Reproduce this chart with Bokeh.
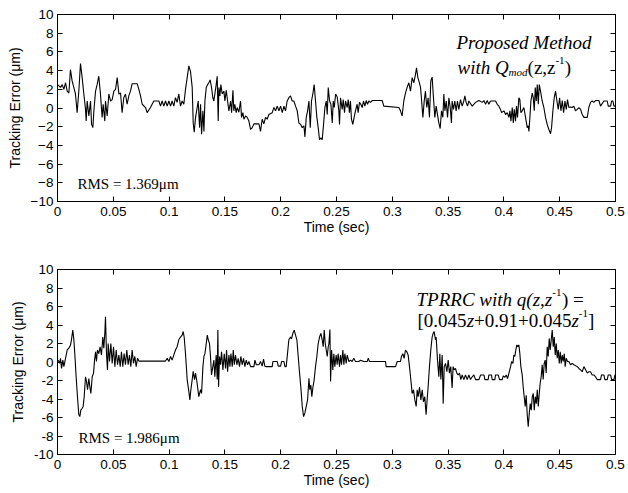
from bokeh.plotting import figure
from bokeh.models import Range1d, FixedTicker, LinearAxis, Label
from bokeh.layouts import column
from bokeh.embed import file_html
from bokeh.resources import INLINE

# ---------------- data ----------------
X_TICKS = [0, 0.05, 0.1, 0.15, 0.2, 0.25, 0.3, 0.35, 0.4, 0.45, 0.5]
X_TICK_LABELS = ["0", "0.05", "0.1", "0.15", "0.2", "0.25", "0.3", "0.35", "0.4", "0.45", "0.5"]
Y_TICKS = [-10, -8, -6, -4, -2, 0, 2, 4, 6, 8, 10]
Y_TICK_LABELS_TOP = ["\u221210", "\u22128", "\u22126", "\u22124", "\u22122", "0", "2", "4", "6", "8", "10"]
Y_TICK_LABELS_BOTTOM = ["-10", "-8", "-6", "-4", "-2", "0", "2", "4", "6", "8", "10"]
X_LABEL = "Time (sec)"
Y_LABEL = "Tracking Error (\u03bcm)"
RMS_TOP = "RMS = 1.369\u03bcm"
RMS_BOTTOM = "RMS = 1.986\u03bcm"

# Proposed method (top panel): time (s), tracking error (um)
T_PROPOSED = [
    0.0000, 0.0027, 0.0042, 0.0057, 0.0072, 0.0087, 0.0102, 0.0116, 0.0131, 0.0146,
    0.0161, 0.0176, 0.0191, 0.0206, 0.0221, 0.0236, 0.0251, 0.0257, 0.0266, 0.0281,
    0.0296, 0.0305, 0.0317, 0.0326, 0.0341, 0.0355, 0.0370, 0.0385, 0.0400, 0.0409,
    0.0424, 0.0430, 0.0445, 0.0460, 0.0475, 0.0490, 0.0505, 0.0520, 0.0535, 0.0550,
    0.0565, 0.0579, 0.0594, 0.0609, 0.0624, 0.0639, 0.0654, 0.0669, 0.0714, 0.0729,
    0.0744, 0.0759, 0.0789, 0.0803, 0.0833, 0.0863, 0.0908, 0.0923, 0.0938, 0.0953,
    0.0968, 0.0983, 0.0998, 0.1013, 0.1027, 0.1042, 0.1057, 0.1072, 0.1087, 0.1102,
    0.1117, 0.1132, 0.1147, 0.1162, 0.1177, 0.1192, 0.1207, 0.1216, 0.1225, 0.1237,
    0.1261, 0.1273, 0.1282, 0.1291, 0.1303, 0.1312, 0.1321, 0.1333, 0.1345, 0.1356,
    0.1368, 0.1380, 0.1392, 0.1401, 0.1410, 0.1422, 0.1431, 0.1440, 0.1446, 0.1455,
    0.1464, 0.1476, 0.1491, 0.1500, 0.1512, 0.1524, 0.1536, 0.1551, 0.1560, 0.1572,
    0.1580, 0.1589, 0.1601, 0.1610, 0.1625, 0.1640, 0.1649, 0.1661, 0.1670, 0.1685,
    0.1700, 0.1715, 0.1730, 0.1745, 0.1760, 0.1805, 0.1819, 0.1834, 0.1849, 0.1864,
    0.1879, 0.1894, 0.1924, 0.1939, 0.1954, 0.1969, 0.1984, 0.1999, 0.2014, 0.2029,
    0.2043, 0.2058, 0.2073, 0.2088, 0.2103, 0.2118, 0.2133, 0.2148, 0.2163, 0.2178,
    0.2193, 0.2208, 0.2217, 0.2229, 0.2241, 0.2253, 0.2265, 0.2276, 0.2288, 0.2300,
    0.2312, 0.2324, 0.2336, 0.2348, 0.2360, 0.2372, 0.2384, 0.2396, 0.2408, 0.2417,
    0.2426, 0.2438, 0.2450, 0.2462, 0.2471, 0.2480, 0.2492, 0.2506, 0.2521, 0.2527,
    0.2536, 0.2551, 0.2560, 0.2572, 0.2581, 0.2596, 0.2605, 0.2616, 0.2625, 0.2634,
    0.2646, 0.2658, 0.2670, 0.2685, 0.2694, 0.2706, 0.2718, 0.2730, 0.2742, 0.2754,
    0.2766, 0.2778, 0.2790, 0.2805, 0.2820, 0.2909, 0.2924, 0.3059, 0.3073, 0.3088,
    0.3103, 0.3118, 0.3133, 0.3148, 0.3163, 0.3178, 0.3193, 0.3208, 0.3217, 0.3229,
    0.3238, 0.3253, 0.3262, 0.3274, 0.3286, 0.3297, 0.3309, 0.3321, 0.3333, 0.3345,
    0.3357, 0.3369, 0.3381, 0.3393, 0.3405, 0.3417, 0.3429, 0.3441, 0.3453, 0.3462,
    0.3471, 0.3483, 0.3495, 0.3507, 0.3519, 0.3530, 0.3536, 0.3548, 0.3560, 0.3572,
    0.3584, 0.3596, 0.3611, 0.3626, 0.3641, 0.3650, 0.3662, 0.3674, 0.3686, 0.3716,
    0.3746, 0.3776, 0.3806, 0.3821, 0.3836, 0.3851, 0.3865, 0.3880, 0.3925, 0.3940,
    0.3955, 0.3970, 0.3979, 0.4000, 0.4015, 0.4030, 0.4045, 0.4054, 0.4063, 0.4075,
    0.4084, 0.4093, 0.4104, 0.4113, 0.4122, 0.4134, 0.4143, 0.4152, 0.4164, 0.4179,
    0.4194, 0.4209, 0.4218, 0.4224, 0.4233, 0.4242, 0.4254, 0.4263, 0.4272, 0.4281,
    0.4290, 0.4299, 0.4308, 0.4317, 0.4328, 0.4343, 0.4358, 0.4373, 0.4388, 0.4403,
    0.4418, 0.4427, 0.4439, 0.4451, 0.4463, 0.4475, 0.4487, 0.4499, 0.4511, 0.4523,
    0.4535, 0.4547, 0.4559, 0.4570, 0.4582, 0.4597, 0.4612, 0.4627, 0.4642, 0.4657,
    0.4672, 0.4687, 0.4702, 0.4717, 0.4747, 0.4761, 0.4776, 0.4791, 0.4806, 0.4821,
    0.4851, 0.4866, 0.4896, 0.4926, 0.4935, 0.4956, 0.4965, 0.4977, 0.4986, 0.5000,
]
E_PROPOSED = [
    2.5, 2.2, 2.5, 2.0, 2.7, 1.8, 1.6, 4.1, 2.9, 2.2,
    1.5, -0.5, 1.8, 4.75, 3.25, 1.5, -0.15, -1.4, 0.75, -0.85,
    0.75, -1.75, -2.1, -0.3, 1.8, 2.5, 3.4, 1.5, -1.0, 0.4,
    -1.4, 0.75, -0.85, 1.5, 0.75, 0.9, 1.8, 2.0, 3.25, 1.5,
    1.6, -0.5, 1.1, 1.5, 0.4, 1.3, 1.8, 2.6, 2.6, 2.0,
    1.3, 0.4, 0.05, -0.5, 0.05, 0.75, 0.75, 0.2, 0.75, 0.2,
    0.75, 0.2, 0.75, 0.2, 0.75, 0.2, 1.1, 0.6, 1.5, 0.2,
    0.75, 0.4, 2.0, 3.25, 4.5, 3.9, 2.2, -1.6, -2.6, -1.0,
    0.75, -2.1, 0.4, -2.8, -0.3, -2.5, 0.75, 2.2, 2.5, 2.7,
    3.0, 2.2, 1.1, 0.75, 1.5, 2.5, 3.4, -1.4, 2.2, 1.3,
    2.5, 1.5, 1.8, 0.75, 1.9, 0.75, -0.3, 0.75, -0.5, 1.9,
    -0.3, 0.4, -0.5, 0.05, -0.45, 0.75, -1.0, -0.5, -1.2, -0.85,
    -1.0, -1.4, -2.3, -2.1, -1.7, -1.7, -2.5, -1.2, -1.7, -1.0,
    -1.2, -0.7, -0.5, 0.05, -0.3, 0.2, -0.3, 0.2, -0.5, 0.2,
    -0.3, 0.75, 1.1, 1.3, 0.75, 0.75, 0.2, -0.3, -1.6, -1.75,
    -2.1, -1.9, -3.1, -1.0, -0.3, 0.75, -2.1, 0.75, 1.5, 2.5,
    0.75, -1.0, -2.1, -3.4, -3.2, -3.4, -1.75, 0.05, 0.75, -0.7,
    2.2, 0.75, 0.4, -1.6, 0.75, 0.05, 1.5, 1.2, -0.3, -1.75,
    1.1, -0.15, 0.9, -0.5, 0.75, 0.05, 0.9, -0.5, 0.75, -1.2,
    -1.75, -1.0, -0.3, 0.4, -0.5, 0.6, 0.4, 0.05, 0.75, 0.2,
    0.8, 0.4, 0.75, 0.6, 0.8, 0.8, 0.2, 0.05, -0.3, -0.85,
    0.75, 1.6, 2.2, 2.7, 1.8, 3.25, 2.7, 3.6, 4.3, 3.25,
    2.9, 2.2, 0.9, -1.0, 0.75, 1.8, 0.05, 1.1, -1.0, 2.9,
    3.3, 1.1, -1.0, 0.2, -0.7, -1.6, -2.2, -0.3, -1.0, 1.5,
    -0.3, 0.75, -1.0, 1.1, 0.05, -1.6, 0.75, -0.15, 0.75, -0.3,
    0.75, -0.15, 0.9, 0.2, 0.75, 1.3, 0.6, 0.2, 0.75, 0.2,
    0.6, 0.8, 0.6, 0.8, 0.4, 0.8, 0.4, 0.75, 0.75, 0.4,
    0.2, -0.15, -0.5, -0.3, -0.7, -0.5, -1.0, -0.3, -1.4, 0.05,
    -1.6, -0.15, -1.4, 0.2, -1.0, 1.1, 0.9, -0.5, -0.3, 0.05,
    -1.0, -2.1, -1.9, -2.5, -1.0, 0.75, 1.6, 1.1, -0.3, 2.2,
    0.75, 2.5, 0.4, 2.5, 1.8, 0.75, 0.05, -1.0, -1.75, -2.3,
    -2.75, -2.1, -0.3, 1.1, 1.8, 0.75, -0.15, 1.1, -0.3, 0.8,
    -0.5, 0.75, -0.15, 0.9, 0.05, 0.1, 0.05, 0.2, -0.3, -0.15,
    0.05, -0.15, -0.7, -1.0, -1.0, 0.05, 0.6, 0.75, 0.6, 0.8,
    0.8, 0.2, 0.75, 0.75, 0.2, 0.2, 0.75, 0.75, 0.2, 0.2,
]

# TPRRC (bottom panel): time (s), tracking error (um)
T_TPRRC = [
    0.0006, 0.0018, 0.0027, 0.0036, 0.0048, 0.0057, 0.0066, 0.0078, 0.0087, 0.0102,
    0.0116, 0.0125, 0.0137, 0.0146, 0.0155, 0.0167, 0.0179, 0.0191, 0.0200, 0.0209,
    0.0221, 0.0230, 0.0239, 0.0251, 0.0260, 0.0269, 0.0281, 0.0290, 0.0299, 0.0311,
    0.0323, 0.0332, 0.0341, 0.0349, 0.0358, 0.0370, 0.0382, 0.0394, 0.0406, 0.0415,
    0.0424, 0.0430, 0.0439, 0.0448, 0.0454, 0.0466, 0.0478, 0.0490, 0.0502, 0.0514,
    0.0526, 0.0538, 0.0550, 0.0562, 0.0573, 0.0585, 0.0597, 0.0609, 0.0621, 0.0633,
    0.0645, 0.0657, 0.0669, 0.0681, 0.0693, 0.0705, 0.0717, 0.0729, 0.0968, 0.0983,
    0.0998, 0.1013, 0.1027, 0.1042, 0.1057, 0.1072, 0.1087, 0.1102, 0.1117, 0.1126,
    0.1135, 0.1147, 0.1162, 0.1177, 0.1186, 0.1195, 0.1207, 0.1216, 0.1228, 0.1237,
    0.1251, 0.1266, 0.1282, 0.1291, 0.1303, 0.1312, 0.1321, 0.1333, 0.1342, 0.1351,
    0.1362, 0.1371, 0.1380, 0.1392, 0.1401, 0.1410, 0.1422, 0.1431, 0.1437, 0.1443,
    0.1452, 0.1461, 0.1470, 0.1482, 0.1494, 0.1506, 0.1515, 0.1524, 0.1536, 0.1545,
    0.1554, 0.1566, 0.1575, 0.1584, 0.1595, 0.1607, 0.1619, 0.1631, 0.1643, 0.1655,
    0.1667, 0.1679, 0.1691, 0.1703, 0.1715, 0.1730, 0.1760, 0.1769, 0.1781, 0.1805,
    0.1819, 0.1834, 0.1846, 0.1858, 0.1870, 0.1924, 0.1930, 0.1969, 0.1978, 0.1999,
    0.2008, 0.2029, 0.2038, 0.2049, 0.2061, 0.2073, 0.2088, 0.2097, 0.2109, 0.2121,
    0.2133, 0.2145, 0.2157, 0.2169, 0.2181, 0.2193, 0.2205, 0.2217, 0.2229, 0.2241,
    0.2253, 0.2261, 0.2270, 0.2279, 0.2288, 0.2300, 0.2312, 0.2324, 0.2336, 0.2348,
    0.2360, 0.2372, 0.2381, 0.2390, 0.2399, 0.2408, 0.2417, 0.2426, 0.2432, 0.2441,
    0.2447, 0.2456, 0.2467, 0.2476, 0.2485, 0.2497, 0.2506, 0.2515, 0.2527, 0.2536,
    0.2545, 0.2557, 0.2566, 0.2575, 0.2587, 0.2596, 0.2611, 0.2625, 0.2640, 0.2655,
    0.2670, 0.2700, 0.2715, 0.2745, 0.2775, 0.2784, 0.2796, 0.2939, 0.2945, 0.3029,
    0.3044, 0.3073, 0.3082, 0.3094, 0.3106, 0.3118, 0.3130, 0.3142, 0.3154, 0.3166,
    0.3178, 0.3190, 0.3202, 0.3214, 0.3223, 0.3232, 0.3244, 0.3256, 0.3268, 0.3279,
    0.3291, 0.3303, 0.3312, 0.3321, 0.3333, 0.3345, 0.3357, 0.3366, 0.3375, 0.3387,
    0.3393, 0.3405, 0.3417, 0.3426, 0.3435, 0.3447, 0.3456, 0.3465, 0.3477, 0.3489,
    0.3501, 0.3512, 0.3524, 0.3536, 0.3545, 0.3554, 0.3566, 0.3578, 0.3590, 0.3602,
    0.3614, 0.3626, 0.3641, 0.3656, 0.3671, 0.3686, 0.3701, 0.3716, 0.3731, 0.3746,
    0.3776, 0.3791, 0.3821, 0.3830, 0.3859, 0.3865, 0.3889, 0.3895, 0.3919, 0.3925,
    0.3949, 0.3961, 0.3985, 0.3994, 0.4009, 0.4021, 0.4033, 0.4045, 0.4060, 0.4069,
    0.4081, 0.4089, 0.4098, 0.4107, 0.4116, 0.4125, 0.4134, 0.4143, 0.4152, 0.4164,
    0.4173, 0.4182, 0.4191, 0.4200, 0.4209, 0.4218, 0.4227, 0.4236, 0.4245, 0.4254,
    0.4263, 0.4272, 0.4281, 0.4290, 0.4299, 0.4308, 0.4317, 0.4325, 0.4334, 0.4343,
    0.4352, 0.4361, 0.4370, 0.4379, 0.4388, 0.4397, 0.4406, 0.4415, 0.4424, 0.4433,
    0.4442, 0.4451, 0.4460, 0.4469, 0.4478, 0.4487, 0.4496, 0.4505, 0.4514, 0.4523,
    0.4532, 0.4541, 0.4549, 0.4558, 0.4570, 0.4582, 0.4597, 0.4612, 0.4627, 0.4657,
    0.4672, 0.4687, 0.4702, 0.4717, 0.4732, 0.4747, 0.4761, 0.4776, 0.4791, 0.4806,
    0.4821, 0.4836, 0.4866, 0.4875, 0.4896, 0.4905, 0.4926, 0.4935, 0.4956, 0.4965,
    0.4986, 0.4995, 0.5000,
]
E_TPRRC = [
    0.2, -0.15, 0.4, -0.7, 0.2, -0.5, 0.05, 0.75, 1.3, 1.5,
    1.8, 2.4, 3.45, 2.5, 0.9, -1.6, -3.75, -5.7, -5.9, -5.2,
    -5.0, -4.8, -3.75, -1.6, -2.1, -3.0, -1.8, -2.7, -3.4, -1.6,
    -1.2, 0.2, 1.1, 0.05, 1.3, 0.9, 1.65, 0.75, 2.7, 1.5,
    3.1, 4.9, 0.9, -0.85, 2.0, 0.05, 2.0, -0.15, 1.65, -0.5,
    1.3, -0.3, 0.75, -0.5, 1.1, -0.5, 0.9, -0.3, 1.3, -0.3,
    0.75, -0.5, 1.3, -0.15, 0.6, -0.5, 0.4, 0.1, 0.1, 0.4,
    0.05, 0.6, 0.2, 0.75, 1.3, 1.65, 2.4, 2.7, 2.9, 3.3,
    2.7, 0.9, -1.9, -3.2, -4.1, -3.0, -1.9, -1.0, -1.9, -1.2,
    -2.3, -3.75, -3.0, -3.4, -0.5, 0.6, 0.9, 2.0, 2.9, 2.4,
    2.0, 0.6, -1.4, -0.5, 0.2, -1.6, 0.75, -1.9, 3.45, -2.7,
    0.6, -0.3, 1.1, -0.85, 0.9, -0.7, 1.3, -1.05, 0.75, -0.5,
    0.9, -0.5, 1.3, -0.3, 0.75, -0.3, 0.4, -0.5, 0.6, -0.3,
    0.4, -0.5, 0.2, -0.3, 0.05, -0.5, -0.5, 0.2, -0.3, -0.3,
    0.05, -0.45, 0.3, -0.45, -0.5, -0.5, 0.05, 0.05, -0.45, -0.45,
    0.05, 0.05, -0.5, -0.5, 0.9, 2.4, 2.7, 2.5, 3.1, 3.45,
    2.9, 2.4, 0.6, -1.2, -2.8, -4.8, -5.9, -5.5, -4.8, -4.1,
    -1.75, -3.0, -2.5, -3.75, -2.8, -1.9, -0.5, 0.6, 2.0, 2.7,
    3.1, 2.4, 1.65, 3.45, 2.0, 1.3, 0.6, 1.65, 2.0, 3.5,
    -2.1, 1.3, -0.85, 0.9, -0.5, 0.75, -0.3, 0.9, -0.5, 0.75,
    -0.3, 1.3, -0.3, 0.9, -0.15, 0.75, 0.05, 0.2, 0.05, 0.4,
    0.05, 0.05, 0.2, 0.05, 0.05, 0.4, 0.05, 0.05, -0.5, -0.5,
    0.05, 0.05, 0.6, 0.9, 0.4, 1.3, 1.1, 0.75, -0.5, -1.9,
    -3.4, -3.0, -4.1, -4.8, -3.0, -3.75, -2.7, -4.1, -3.0, -4.3,
    -3.75, -5.7, -4.1, -2.7, -0.5, 1.3, 2.7, 3.1, 3.3, 2.4,
    2.7, 0.2, -1.6, 0.9, -1.9, 0.75, -4.5, -0.5, -0.15, -1.05,
    0.2, -1.2, -0.5, -2.8, -0.5, -0.85, -0.7, -1.2, -1.4, -1.2,
    -1.9, -1.4, -1.9, -1.4, -1.9, -1.4, -1.9, -1.6, -1.4, -1.9,
    -1.9, -1.4, -1.4, -1.9, -1.9, -1.4, -1.4, -1.9, -1.9, -1.4,
    -1.4, -1.9, -1.9, -1.5, -1.65, -1.4, -1.8, -1.2, -0.5, 0.05,
    -0.15, 0.75, 0.6, 1.3, 1.85, 1.65, 1.85, 0.9, -0.5, -1.4,
    -2.7, -3.75, -4.8, -3.6, -5.7, -7.0, -5.6, -4.5, -5.2, -3.75,
    -3.4, -5.2, -3.75, -4.5, -3.0, -4.8, -3.4, -2.3, -1.6, -0.3,
    -1.9, -0.15, 0.2, -1.2, 1.65, 0.6, 2.55, 1.3, 2.4, 3.45,
    1.65, 2.7, 0.75, 2.0, 0.4, 1.3, -0.15, 1.1, -0.15, 0.75,
    0.05, 0.9, -0.5, 0.4, 0.05, 0.05, -0.3, -0.15, -0.3, -0.5,
    -0.7, -0.85, -1.05, -0.5, -0.85, -1.2, -1.05, -1.05, -1.4, -1.4,
    -1.6, -1.9, -1.9, -1.4, -1.4, -1.9, -1.9, -1.4, -1.4, -1.9,
    -1.9, -1.4, -1.4,
]

SANS = "Liberation Sans"
SERIF = "Liberation Serif"


def make_fig(t, e, ylabels, height, top, bottom, label_standoff):
    p = figure(width=628, height=height, output_backend="svg", toolbar_location=None,
               x_range=Range1d(0, 0.5), y_range=Range1d(-10, 10),
               min_border_left=57, min_border_right=13,
               min_border_top=top, min_border_bottom=bottom,
               x_axis_label=X_LABEL, y_axis_label=Y_LABEL)
    p.grid.visible = False
    p.outline_line_color = "black"
    p.outline_line_width = 1
    p.background_fill_color = "white"
    p.border_fill_color = "white"
    for ax, ticks, labels in ((p.xaxis[0], X_TICKS, X_TICK_LABELS),
                              (p.yaxis[0], Y_TICKS, ylabels)):
        ax.ticker = FixedTicker(ticks=ticks)
        ax.major_label_overrides = dict(zip(ticks, labels))
        ax.major_tick_in = 5
        ax.major_tick_out = 0
        ax.minor_tick_line_color = None
        ax.axis_line_color = "black"
        ax.major_tick_line_color = "black"
        ax.major_label_text_font = SANS
        ax.major_label_text_font_size = "13.5px"
        ax.major_label_text_color = "black"
        ax.axis_label_text_font = SANS
        ax.axis_label_text_font_size = "14px"
        ax.axis_label_text_font_style = "normal"
        ax.axis_label_text_color = "black"
    p.xaxis[0].major_label_standoff = 5
    p.xaxis[0].axis_label_standoff = label_standoff
    p.yaxis[0].major_label_standoff = 4
    p.yaxis[0].axis_label_standoff = 5

    # tick marks only (no labels) on the top and right edges of the box
    for loc, ticks in (("above", X_TICKS), ("right", Y_TICKS)):
        ax = LinearAxis(ticker=FixedTicker(ticks=ticks), major_tick_in=5, major_tick_out=0,
                        minor_tick_line_color=None, axis_line_color="black",
                        major_label_text_font_size="1px", major_label_text_color=None,
                        major_label_standoff=0)
        p.add_layout(ax, loc)

    p.line(t, e, line_color="black", line_width=1.1)
    return p


def lab(p, x, y, text, size="19px", style="italic", font=SERIF):
    p.add_layout(Label(x=x, y=y, text=text, text_font=font, text_font_size=size,
                       text_font_style=style, text_baseline="alphabetic",
                       text_align="left", text_color="black"))


p1 = make_fig(T_PROPOSED, E_PROPOSED, Y_TICK_LABELS_TOP, 239, 14, 38, 0)
lab(p1, 0.3575, 6.98, "Proposed Method")
lab(p1, 0.3584, 4.33, "with Q")
lab(p1, 0.4042, 3.9, "mod", size="11px")
lab(p1, 0.4212, 4.33, "(z,z", style="normal")
lab(p1, 0.4462, 5.08, "-1", size="11px", style="normal")
lab(p1, 0.4545, 4.33, ")", style="normal")
lab(p1, 0.0179, -8.13, RMS_TOP, size="15px", style="normal")

p2 = make_fig(T_TPRRC, E_TPRRC, Y_TICK_LABELS_BOTTOM, 253, 30, 38, 0)
lab(p2, 0.3217, 6.76, "TPRRC with q(z,z")
lab(p2, 0.4433, 7.48, "-1", size="11px", style="normal")
lab(p2, 0.4520, 6.76, ") =", style="normal")
lab(p2, 0.3226, 4.49, "[0.045", style="normal")
lab(p2, 0.3666, 4.49, "z")
lab(p2, 0.3732, 4.49, "+0.91+0.045", style="normal")
lab(p2, 0.4605, 4.49, "z")
lab(p2, 0.4671, 5.24, "-1", size="11px", style="normal")
lab(p2, 0.4753, 4.49, "]", style="normal")
lab(p2, 0.0188, -8.27, RMS_BOTTOM, size="15px", style="normal")

layout = column(p1, p2, spacing=0)
open("out.html", "w").write(file_html(layout, INLINE))
